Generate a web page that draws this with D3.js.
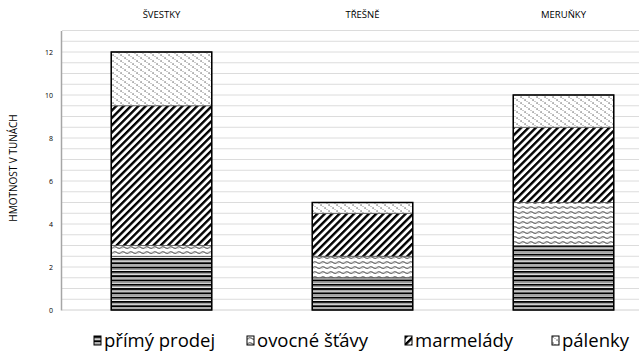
<!DOCTYPE html>
<html><head><meta charset="utf-8">
<script src="https://cdn.jsdelivr.net/npm/d3@7"></script>
<style>body{margin:0;background:#fff}svg{display:block}text{font-family:"Open Sans",sans-serif;fill:#000}</style>
</head><body>
<svg id="c" width="639" height="364"></svg>
<script>
const categories = ["ŠVESTKY","TŘEŠNĚ","MERUŇKY"];
const seriesNames = ["přímý prodej","ovocné šťávy","marmelády","pálenky"];
const primyProdej = [2.5, 1.5, 3];
const ovocneStavy = [0.5, 1, 2];
const marmelady = [6.5, 2, 3.5];
const palenky = [2.5, 0.5, 1.5];
const yTicks = [0,2,4,6,8,10,12];
const yTitle = "HMOTNOST V TUNÁCH";

const svg = d3.select("#c");
const defs = svg.append("defs");

// patterns
const pH = defs.append("pattern").attr("id","p0").attr("patternUnits","userSpaceOnUse").attr("width",8).attr("height",4.3);
pH.append("rect").attr("width",8).attr("height",4.3).attr("fill","#fff");
pH.append("rect").attr("y",0).attr("width",8).attr("height",2).attr("fill","#000");
pH.append("rect").attr("y",2.6).attr("width",8).attr("height",0.9).attr("fill","#999");

const pW = defs.append("pattern").attr("id","p1").attr("patternUnits","userSpaceOnUse").attr("width",8).attr("height",5);
pW.append("rect").attr("width",8).attr("height",5).attr("fill","#fff");
pW.append("path").attr("d","M0,3.5 Q2,0.5 4,2 T8,3.5").attr("fill","none").attr("stroke","#666").attr("stroke-width",1);
pW.append("path").attr("d","M0,1.5 L2,3.5 L4,1.5 L6,3.5 L8,1.5").attr("fill","none").attr("stroke","#111").attr("stroke-width",0.6).attr("opacity",0.5);

const pD = defs.append("pattern").attr("id","p2").attr("patternUnits","userSpaceOnUse").attr("width",5.2).attr("height",5.2).attr("patternTransform","rotate(45)");
pD.append("rect").attr("width",5.2).attr("height",5.2).attr("fill","#fff");
pD.append("rect").attr("x",0).attr("width",2.4).attr("height",5.2).attr("fill","#000");

const pP = defs.append("pattern").attr("id","p3").attr("patternUnits","userSpaceOnUse").attr("width",8).attr("height",6);
pP.append("rect").attr("width",8).attr("height",6).attr("fill","#fff");
[[0.5,0.5],[4.5,3.5]].forEach(([x,y])=>pP.append("rect").attr("x",x).attr("y",y).attr("width",1.1).attr("height",1.1).attr("fill","#222"));
[[2.5,2],[6.5,5]].forEach(([x,y])=>pP.append("rect").attr("x",x).attr("y",y).attr("width",1).attr("height",1).attr("fill","#999"));

const patterns = ["url(#p0)","url(#p1)","url(#p2)","url(#p3)"];

const y = d3.scaleLinear().domain([0,13]).range([310,30.5]);
const x = d3.scaleBand().domain(categories).range([61,664]).paddingInner(0.5).paddingOuter(0.25);

// gridlines
const grid = d3.range(0.5,13.01,0.5);
svg.append("g").selectAll("line").data(grid).join("line")
  .attr("x1",62).attr("x2",639).attr("y1",d=>y(d)).attr("y2",d=>y(d))
  .attr("stroke","#dcdcdc").attr("stroke-width",1);
svg.append("line").attr("x1",62).attr("x2",639).attr("y1",y(0)).attr("y2",y(0)).attr("stroke","#d0d0d0");

// y axis
const ya = svg.append("g").attr("transform","translate(61,0)")
  .call(d3.axisLeft(y).tickValues(yTicks).tickSize(0).tickPadding(8).tickFormat(d3.format("d")));
ya.select(".domain").attr("stroke","#a6a6a6").attr("stroke-width",1.5);
ya.selectAll("text").attr("font-size",7).attr("font-family","'Open Sans',sans-serif");

svg.append("text").attr("transform","translate(14,168) rotate(-90)").attr("text-anchor","middle")
  .attr("dominant-baseline","middle").attr("font-size",10).text(yTitle);

// category labels at top
svg.append("g").selectAll("text").data(categories).join("text")
  .attr("x",d=>x(d)+x.bandwidth()/2).attr("y",18).attr("text-anchor","middle")
  .attr("font-size",9.5).text(d=>d);

// stacked bars
const rows = categories.map((c,i)=>({cat:c, s0:primyProdej[i], s1:ovocneStavy[i], s2:marmelady[i], s3:palenky[i]}));
const stack = d3.stack().keys(["s0","s1","s2","s3"])(rows);
stack.forEach((layer,k)=>{
  svg.append("g").selectAll("rect").data(layer).join("rect")
    .attr("x",d=>x(d.data.cat)).attr("width",x.bandwidth())
    .attr("y",d=>y(d[1])).attr("height",d=>y(d[0])-y(d[1]))
    .attr("fill",patterns[k]).attr("stroke","#555").attr("stroke-width",0.8);
});
// outline
svg.append("g").selectAll("rect").data(rows).join("rect")
  .attr("x",d=>x(d.cat)).attr("width",x.bandwidth())
  .attr("y",d=>y(d.s0+d.s1+d.s2+d.s3)).attr("height",d=>y(0)-y(d.s0+d.s1+d.s2+d.s3))
  .attr("fill","none").attr("stroke","#000").attr("stroke-width",1.5);

// legend
const legX = [94,247,405,552];
const leg = svg.append("g").selectAll("g").data(seriesNames).join("g")
  .attr("transform",(d,i)=>`translate(${legX[i]},336)`);
leg.append("rect").attr("width",7).attr("height",9).attr("fill",(d,i)=>patterns[i]).attr("stroke","#000").attr("stroke-width",1);
leg.append("text").attr("x",10).attr("y",10.5).attr("font-size",18.5).text(d=>d);
</script>
</body></html>
